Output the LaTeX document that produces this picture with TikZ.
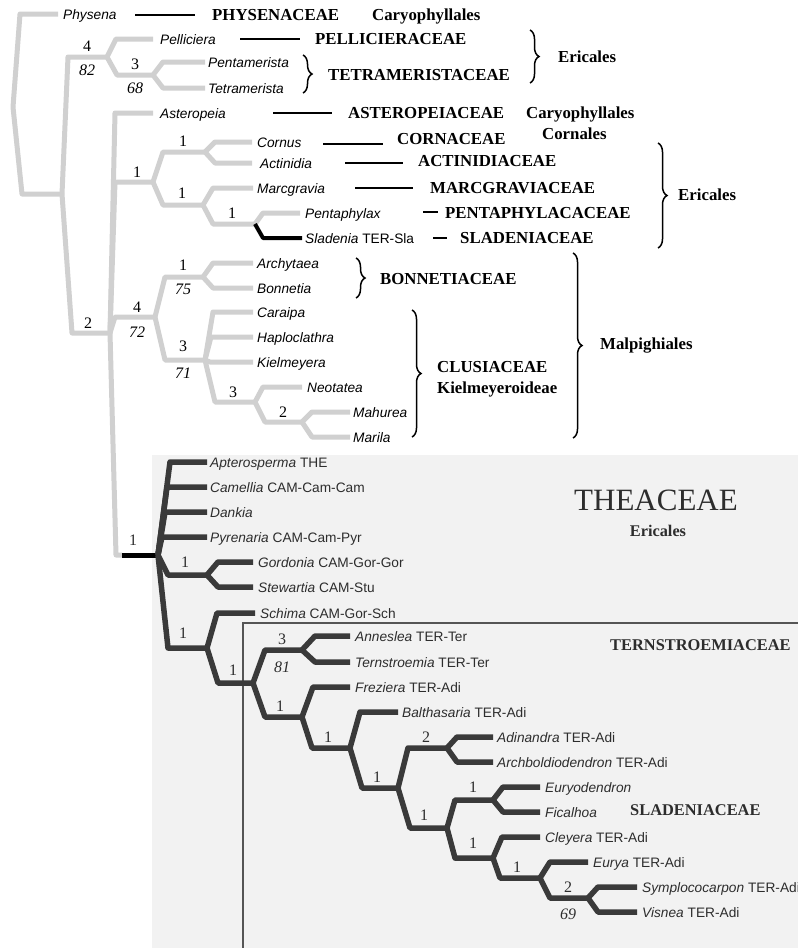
\documentclass[tikz,border=0pt]{standalone}
\usepackage{fontspec}
\setmainfont{Liberation Serif}
\setsansfont{Liberation Sans}
\usetikzlibrary{calc,decorations.pathreplacing}
\definecolor{lgray}{RGB}{208,208,208}
\definecolor{dgray}{RGB}{58,58,58}
\definecolor{boxgray}{RGB}{242,242,242}
\definecolor{innerc}{RGB}{85,85,85}
\definecolor{ltext}{RGB}{45,45,45}
\tikzset{
  gl/.style={draw=lgray,line width=5pt,line join=round},
  dl/.style={draw=dgray,line width=5.5pt,line join=round},
  bl/.style={draw=black,line width=4pt,line join=round},
  tx/.style={font=\sffamily\itshape\fontsize{13.7}{15}\selectfont,anchor=base west,inner sep=0pt},
  fam/.style={font=\bfseries\fontsize{16.8}{18}\selectfont,anchor=base west,inner sep=0pt},
  num/.style={font=\fontsize{16}{18}\selectfont,inner sep=0pt},
  inum/.style={font=\itshape\fontsize{16}{18}\selectfont,inner sep=0pt},
  famline/.style={draw=black,line width=2.2pt},
  brc/.style={draw=black,line width=1.5pt,decorate,decoration={brace,amplitude=9pt}},
}
\newcommand{\br}[4][gl]{\draw[#1] (#2) -- ($(#2|-#3)+(#4,0)$) -- (#3);}
\newcommand{\tipl}[5]{\coordinate (t#1) at (#2,#3); \node[tx] (l#1) at (#4,#3+5) {#5};}
\newcommand{\famn}[4]{\node[fam] (#1) at (#2,#3+5.6) {#4};}
\newcommand{\fl}[4]{\coordinate (#1a) at (#2,#4); \coordinate (#1b) at (#3,#4); \draw[famline] (#1a) -- (#1b);}
\newcommand{\bracen}[4]{\coordinate (#1a) at (#2,#3); \coordinate (#1b) at (#2,#4); \draw[brc] (#1a) -- (#1b);}
\begin{document}
\begin{tikzpicture}[x=1pt,y=-1pt]
\useasboundingbox (0,0) rectangle (798,948);
% background boxes
\fill[boxgray] (152,455) rectangle (798,948);
\coordinate (ib1) at (243,948); \coordinate (ib2) at (243,623); \coordinate (ib3) at (798,623);
\draw[innerc,line width=1.5pt] (ib1) -- (ib2) -- (ib3);

% ---------------- upper tree (grey) ----------------
\coordinate (R) at (13,107);
\coordinate (X) at (62,194);
\coordinate (A) at (107,57);
\coordinate (B) at (153,75);
\coordinate (C) at (110,333);
\coordinate (D) at (153,182);
\coordinate (E) at (205,152);
\coordinate (F) at (203,205);
\coordinate (G) at (255,224);
\coordinate (H) at (155,317);
\coordinate (I) at (203,277);
\coordinate (J) at (205,360);
\coordinate (K) at (255,402);
\coordinate (L) at (302,422);
\coordinate (Tj) at (122,555);
\coordinate (T) at (158,555);

\tipl{Phys}{58}{14}{63}{Physena}
\tipl{Pell}{153}{39}{160}{Pelliciera}
\tipl{Pent}{205}{62}{208}{Pentamerista}
\tipl{Tetr}{205}{88}{208}{Tetramerista}
\tipl{Aste}{153}{113}{160}{Asteropeia}
\tipl{Corn}{252}{142}{257}{Cornus}
\tipl{Acti}{252}{163}{260}{Actinidia}
\tipl{Marc}{253}{188}{257}{Marcgravia}
\tipl{Pnta}{300}{213}{305}{Pentaphylax}
\tipl{Slad}{302}{238}{305}{Sladenia \textup{TER-Sla}}
\tipl{Arch}{253}{263}{257}{Archytaea}
\tipl{Bonn}{253}{288}{257}{Bonnetia}
\tipl{Cara}{253}{312}{257}{Caraipa}
\tipl{Hapl}{253}{337}{257}{Haploclathra}
\tipl{Kiel}{253}{362}{257}{Kielmeyera}
\tipl{Neot}{302}{387}{307}{Neotatea}
\tipl{Mahu}{350}{412}{353}{Mahurea}
\tipl{Mari}{350}{437}{353}{Marila}

\br{R}{tPhys}{7}
\br{R}{X}{9}
\br{X}{A}{6}
\br{X}{C}{10}
\br{A}{tPell}{9}
\br{A}{B}{10}
\br{B}{tPent}{10}
\br{B}{tTetr}{10}
\br{C}{tAste}{5}
\br{C}{D}{5}
\br{C}{H}{5}
\br{C}{Tj}{6}
\br{D}{E}{10}
\br{D}{F}{10}
\br{E}{tCorn}{10}
\br{E}{tActi}{10}
\br{F}{tMarc}{10}
\br{F}{G}{10}
\br{G}{tPnta}{8}
\br[bl]{G}{tSlad}{8}
\br{H}{I}{10}
\br{H}{J}{10}
\br{I}{tArch}{10}
\br{I}{tBonn}{10}
\br{J}{tCara}{8}
\br{J}{tHapl}{6}
\br{J}{tKiel}{5}
\br{J}{K}{10}
\br{K}{tNeot}{8}
\br{K}{L}{10}
\br{L}{tMahu}{10}
\br{L}{tMari}{10}
\draw[black,line width=5pt] (Tj) -- (T);

% support values upper
\node[num] (u1) at (87,46) {4};
\node[inum] (u2) at (87,70) {82};
\node[num] (u3) at (135,64) {3};
\node[inum] (u4) at (135,88) {68};
\node[num] (u5) at (88,323) {2};
\node[num] (u6) at (137,172) {1};
\node[num] (u7) at (183,141) {1};
\node[num] (u8) at (182,193) {1};
\node[num] (u9) at (232,213) {1};
\node[num] (u10) at (137,307) {4};
\node[inum] (u11) at (137,332) {72};
\node[num] (u12) at (183,265) {1};
\node[inum] (u13) at (183,289) {75};
\node[num] (u14) at (183,346) {3};
\node[inum] (u15) at (183,373) {71};
\node[num] (u16) at (233,392) {3};
\node[num] (u17) at (283,412) {2};

% family connectors and names
\fl{fPhys}{135}{195}{15}
\famn{PHYS}{212}{15}{PHYSENACEAE}
\famn{CAR1}{372}{15}{Caryophyllales}
\fl{fPell}{240}{300}{39}
\famn{PELL}{315}{39}{PELLICIERACEAE}
\bracen{bTet}{303}{55}{93}
\famn{TETR}{328}{75}{TETRAMERISTACEAE}
\bracen{bEr1}{530}{30}{83}
\famn{ERI1}{558}{57}{Ericales}
\fl{fAste}{273}{332}{113}
\famn{ASTE}{348}{113}{ASTEROPEIACEAE}
\famn{CAR2}{526}{113}{Caryophyllales}
\fl{fCorn}{323}{383}{144}
\famn{CORN}{397}{139}{CORNACEAE}
\famn{CORL}{542}{134}{Cornales}
\fl{fActi}{345}{403}{163}
\famn{ACTI}{418}{161}{ACTINIDIACEAE}
\fl{fMarc}{355}{413}{188}
\famn{MARC}{430}{188}{MARCGRAVIACEAE}
\fl{fPnta}{423}{438}{212}
\famn{PNTA}{445}{213}{PENTAPHYLACACEAE}
\fl{fSlad}{433}{447}{238}
\famn{SLAD}{460}{238}{SLADENIACEAE}
\bracen{bEr2}{658}{143}{248}
\famn{ERI2}{678}{195}{Ericales}
\bracen{bBon}{356}{258}{298}
\famn{BONN}{380}{279}{BONNETIACEAE}
\bracen{bClu}{412}{310}{437}
\famn{CLUS}{437}{367}{CLUSIACEAE}
\famn{KIEL}{437}{388}{Kielmeyeroideae}
\bracen{bMal}{573}{253}{438}
\famn{MALP}{600}{344}{Malpighiales}

% ---------------- Theaceae (dark) ----------------
\coordinate (GS) at (207,575);
\coordinate (S1) at (207,648);
\coordinate (S2) at (253,683);
\coordinate (AT) at (302,650);
\coordinate (FZ) at (302,717);
\coordinate (B1) at (350,748);
\coordinate (B2) at (398,788);
\coordinate (AA) at (447,748);
\coordinate (B3) at (447,828);
\coordinate (EF) at (493,800);
\coordinate (B4) at (493,858);
\coordinate (B5) at (540,878);
\coordinate (SV) at (588,898);

\begin{scope}[every node/.append style={text=ltext}]
\tipl{Apte}{207}{462}{210}{Apterosperma \textup{THE}}
\tipl{Came}{207}{487}{210}{Camellia \textup{CAM-Cam-Cam}}
\tipl{Dank}{207}{512}{210}{Dankia}
\tipl{Pyre}{207}{537}{210}{Pyrenaria \textup{CAM-Cam-Pyr}}
\tipl{Gord}{253}{562}{258}{Gordonia \textup{CAM-Gor-Gor}}
\tipl{Stew}{253}{587}{258}{Stewartia \textup{CAM-Stu}}
\tipl{Schi}{255}{613}{260}{Schima \textup{CAM-Gor-Sch}}
\tipl{Anne}{350}{636}{355}{Anneslea \textup{TER-Ter}}
\tipl{Tern}{350}{662}{355}{Ternstroemia \textup{TER-Ter}}
\tipl{Frez}{350}{687}{355}{Freziera \textup{TER-Adi}}
\tipl{Balt}{398}{712}{402}{Balthasaria \textup{TER-Adi}}
\tipl{Adin}{493}{737}{497}{Adinandra \textup{TER-Adi}}
\tipl{Arcb}{493}{762}{497}{Archboldiodendron \textup{TER-Adi}}
\tipl{Eudd}{540}{787}{545}{Euryodendron}
\tipl{Fica}{540}{812}{545}{Ficalhoa}
\tipl{Cley}{540}{837}{545}{Cleyera \textup{TER-Adi}}
\tipl{Eury}{588}{862}{593}{Eurya \textup{TER-Adi}}
\tipl{Symp}{637}{887}{642}{Symplococarpon \textup{TER-Adi}}
\tipl{Visn}{637}{912}{642}{Visnea \textup{TER-Adi}}

\br[dl]{T}{tApte}{12}
\br[dl]{T}{tCame}{9}
\br[dl]{T}{tDank}{7}
\br[dl]{T}{tPyre}{4}
\br[dl]{T}{GS}{10}
\br[dl]{T}{S1}{10}
\br[dl]{GS}{tGord}{11}
\br[dl]{GS}{tStew}{11}
\br[dl]{S1}{tSchi}{10}
\br[dl]{S1}{S2}{11}
\br[dl]{S2}{AT}{12}
\br[dl]{S2}{FZ}{12}
\br[dl]{AT}{tAnne}{13}
\br[dl]{AT}{tTern}{13}
\br[dl]{FZ}{tFrez}{11}
\br[dl]{FZ}{B1}{10}
\br[dl]{B1}{tBalt}{10}
\br[dl]{B1}{B2}{12}
\br[dl]{B2}{AA}{10}
\br[dl]{B2}{B3}{12}
\br[dl]{AA}{tAdin}{10}
\br[dl]{AA}{tArcb}{10}
\br[dl]{B3}{EF}{8}
\br[dl]{B3}{B4}{8}
\br[dl]{EF}{tEudd}{10}
\br[dl]{EF}{tFica}{10}
\br[dl]{B4}{tCley}{9}
\br[dl]{B4}{B5}{7}
\br[dl]{B5}{tEury}{10}
\br[dl]{B5}{SV}{10}
\br[dl]{SV}{tSymp}{10}
\br[dl]{SV}{tVisn}{10}

\node[num] (v0) at (133,540) {1};
\node[num] (v1) at (185,562) {1};
\node[num] (v2) at (183,633) {1};
\node[num] (v3) at (233,670) {1};
\node[num] (v4) at (282,639) {3};
\node[inum] (v5) at (282,667) {81};
\node[num] (v6) at (280,706) {1};
\node[num] (v7) at (328,737) {1};
\node[num] (v8) at (377,777) {1};
\node[num] (v9) at (426,737) {2};
\node[num] (v10) at (424,815) {1};
\node[num] (v11) at (473,787) {1};
\node[num] (v12) at (473,843) {1};
\node[num] (v13) at (517,867) {1};
\node[num] (v14) at (568,887) {2};
\node[inum] (v15) at (568,914) {69};

\node[font=\fontsize{31}{33}\selectfont,inner sep=0pt] (THEA) at (656,500) {THEACEAE};
\node[font=\bfseries\fontsize{16.3}{18}\selectfont,inner sep=0pt] (ERI3) at (658,531) {Ericales};
\node[fam,font=\bfseries\fontsize{16.4}{18}\selectfont] (TERN) at (610,650.5) {TERNSTROEMIACEAE};
\node[fam,font=\bfseries\fontsize{16.4}{18}\selectfont] (SLA2) at (630,815.5) {SLADENIACEAE};
\end{scope}
\end{tikzpicture}
\end{document}
